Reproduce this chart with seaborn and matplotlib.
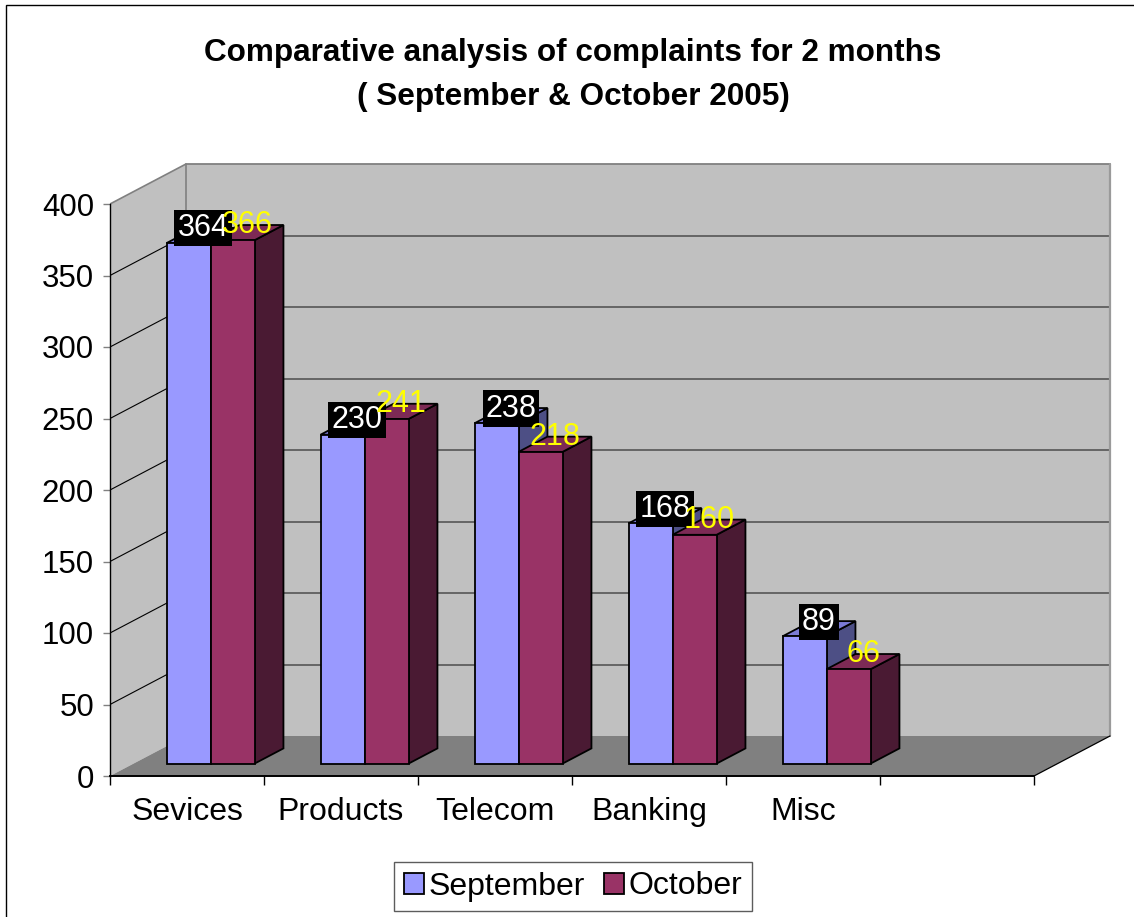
import numpy as np
import pandas as pd
import matplotlib
matplotlib.use("Agg")
import matplotlib.pyplot as plt
import matplotlib.transforms as mtransforms
from matplotlib.patches import Polygon, Patch, Rectangle
import seaborn as sns

# ---- data -------------------------------------------------------------
categories = ["Sevices", "Products", "Telecom", "Banking", "Misc"]
months = ["September", "October"]
september = [364, 230, 238, 168, 89]
october = [366, 241, 218, 160, 66]
y_ticks = [0, 50, 100, 150, 200, 250, 300, 350, 400]
title_lines = ["Comparative analysis of complaints for 2 months",
               "( September & October 2005)"]

front_colors = {"September": "#9999ff", "October": "#993366"}
top_colors = {"September": "#7b7bd6", "October": "#7d2a55"}
side_colors = {"September": "#4d4f85", "October": "#4a1a33"}

# ---- figure -----------------------------------------------------------
W, H = 1134, 917
sns.set_theme(style="white")
plt.rcParams["font.family"] = ["Liberation Sans", "DejaVu Sans"]
plt.rcParams["text.color"] = "black"
plt.rcParams["axes.labelcolor"] = "black"
plt.rcParams["xtick.color"] = "black"
plt.rcParams["ytick.color"] = "black"

fig = plt.figure(figsize=(W / 100, H / 100), dpi=100)
fig.patch.set_facecolor("white")

# pseudo-3D box geometry: axes origin is the front-left floor corner
ORIGIN = (110, 776)
PX_SLOT = 154.0
PX_VAL = 1.43
N_SLOTS = len(categories) + 1
X_MAX = 6.65
Y_MAX = 440
ax = fig.add_axes([ORIGIN[0] / W, (H - ORIGIN[1]) / H,
                   X_MAX * PX_SLOT / W, Y_MAX * PX_VAL / H])
ax.set_facecolor("none")

DX = 76 / PX_SLOT          # depth offset of the back wall (x, in slots)
DY = 40 / PX_VAL           # depth offset of the back wall (y, in values)
FRONT, BACK = 0.31, 0.69   # bar depth inside the box
TOP = y_ticks[-1]

df = pd.DataFrame({
    "category": categories * 2,
    "month": [months[0]] * len(categories) + [months[1]] * len(categories),
    "complaints": september + october,
})

sns.barplot(data=df, x="category", y="complaints", hue="month",
            order=categories, hue_order=months, palette=front_colors,
            saturation=1, width=4 / 7, gap=0, errorbar=None,
            edgecolor="black", linewidth=1.3, legend=False, ax=ax)

# walls and floor
ax.add_patch(Polygon([(0, 0), (DX, DY), (N_SLOTS + DX, DY),
                      (N_SLOTS + DX, TOP + DY), (DX, TOP + DY), (0, TOP)],
                     closed=True, fc="#c0c0c0", ec="none", zorder=0.5))
ax.add_patch(Polygon([(0, 0), (N_SLOTS, 0), (N_SLOTS + DX, DY), (DX, DY)],
                     closed=True, fc="#808080", ec="none", zorder=0.6))

# gridlines: diagonals on the side wall, horizontals on the back wall
for v in y_ticks[1:]:
    edge = v == TOP
    ax.plot([0, DX], [v, v + DY], color="#808080" if edge else "black",
            lw=1.2 if edge else 0.8, zorder=0.8, solid_capstyle="butt")
    ax.plot([DX, N_SLOTS + DX], [v + DY, v + DY],
            color="#808080" if edge else "#5e5e5e", lw=1.3, zorder=0.8)
ax.plot([DX, DX], [DY, TOP + DY], color="#808080", lw=1.2, zorder=0.8)
ax.plot([N_SLOTS + DX, N_SLOTS + DX], [DY, TOP + DY], color="#9a9a9a",
        lw=1.6, zorder=0.8)
ax.plot([N_SLOTS, N_SLOTS + DX], [0, DY], color="black", lw=0.9, zorder=0.9)

# push the seaborn bars into the depth plane and add their side/top faces
depth = mtransforms.Affine2D().translate(0.5 + FRONT * DX, FRONT * DY) + ax.transData
bdx = (BACK - FRONT) * DX
bdy = (BACK - FRONT) * DY
series = {"September": september, "October": october}

for k, (month, container) in enumerate(zip(months, ax.containers)):
    for bar, value in zip(container, series[month]):
        x0, w = bar.get_x(), bar.get_width()
        bar.set_transform(depth)
        bar.set_zorder(3 + k)
        bar.set_clip_on(False)
        side = Polygon([(x0 + w, 0), (x0 + w + bdx, bdy),
                        (x0 + w + bdx, value + bdy), (x0 + w, value)],
                       closed=True, fc=side_colors[month], ec="black",
                       lw=1.3, transform=depth, zorder=2.9 + k, clip_on=False)
        top = Polygon([(x0, value), (x0 + w, value),
                       (x0 + w + bdx, value + bdy), (x0 + bdx, value + bdy)],
                      closed=True, fc=top_colors[month], ec="black",
                      lw=1.3, transform=depth, zorder=2.9 + k, clip_on=False)
        ax.add_patch(side)
        ax.add_patch(top)

        lx = x0 + w / 2 + bdx / 2
        ly = value + bdy / 2 + 5
        if month == "September":
            ax.text(lx, ly, f"{value}", transform=depth, ha="center",
                    va="center", fontsize=22, color="white", zorder=10,
                    bbox=dict(boxstyle="square,pad=0.1", fc="black",
                              ec="none"))
        else:
            ax.text(lx, ly, f"{value}", transform=depth, ha="center",
                    va="center", fontsize=22, color="#ffff00", zorder=11)

# axes
ax.set_xlim(0, X_MAX)
ax.set_ylim(0, Y_MAX)
ax.set_xlabel("")
ax.set_ylabel("")
ax.grid(False)
for name in ["top", "right"]:
    ax.spines[name].set_visible(False)
ax.spines["left"].set_bounds(0, TOP)
ax.spines["left"].set_color("black")
ax.spines["left"].set_linewidth(1.0)
ax.spines["bottom"].set_bounds(0, N_SLOTS)
ax.spines["bottom"].set_color("black")
ax.spines["bottom"].set_linewidth(1.4)

ax.set_yticks(y_ticks)
ax.set_yticklabels([str(v) for v in y_ticks])
ax.tick_params(axis="y", direction="out", length=5, width=1,
               color="#808080", pad=6.5, labelsize=22.5, labelcolor="black",
               left=True)
ax.set_xticks(list(range(N_SLOTS + 1)))
ax.set_xticklabels([""] * (N_SLOTS + 1))
ax.set_xticks([i + 0.5 for i in range(len(categories))], minor=True)
ax.set_xticklabels(categories, minor=True)
ax.tick_params(axis="x", which="major", direction="out", length=6.5,
               width=1, color="black", bottom=True)
ax.tick_params(axis="x", which="minor", length=0, pad=15, labelsize=23,
               labelcolor="black", bottom=True)

# title
fig.text(573 / W, 1 - 53 / H, title_lines[0], ha="center", va="center",
         fontsize=22.7, fontweight="bold", color="black")
fig.text(573 / W, 1 - 97 / H, title_lines[1], ha="center", va="center",
         fontsize=22.7, fontweight="bold", color="black")

# legend
handles = [Patch(fc=front_colors[m], ec="black", lw=1.3, label=m) for m in months]
leg = fig.legend(handles=handles, loc="center",
                 bbox_to_anchor=(573 / W, 1 - 886.5 / H), ncol=2,
                 frameon=True, fancybox=False, edgecolor="#333333",
                 fontsize=23, handlelength=0.62, handleheight=0.62,
                 handletextpad=0.15, columnspacing=0.6, borderpad=0.3,
                 borderaxespad=0)
leg.get_frame().set_linewidth(1.0)

# chart-area border
fig.add_artist(Rectangle((6 / W, -0.05), 1.2, 1.05 - 5 / H,
                         transform=fig.transFigure, fill=False,
                         ec="black", lw=1.0))

fig.savefig("out.png", dpi=100)
